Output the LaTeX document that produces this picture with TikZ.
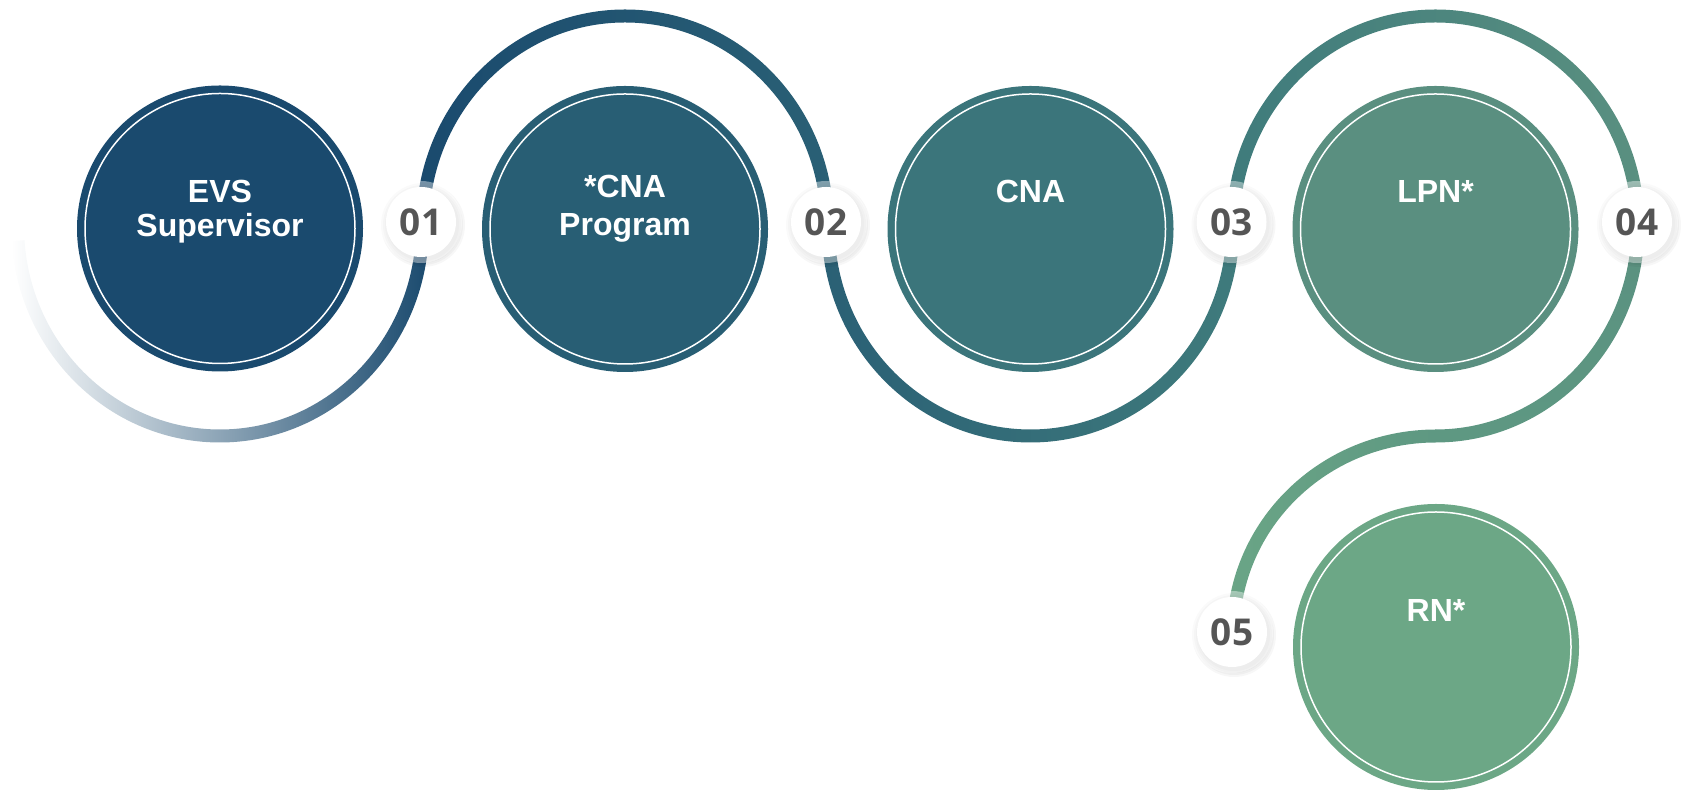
\documentclass[tikz,border=0pt]{standalone}
\usepackage{fontspec}
\newfontfamily\lblfont{Liberation Sans}
\newfontfamily\numfont{Open Sans}
\definecolor{c1}{HTML}{1A4A6E}
\definecolor{c2}{HTML}{285E74}
\definecolor{c3}{HTML}{3B757B}
\definecolor{c4}{HTML}{5A8F80}
\definecolor{c5}{HTML}{6CA786}
\definecolor{amid}{HTML}{9DAFD0}
\definecolor{k2}{HTML}{2A6075}
\definecolor{k3}{HTML}{3F7B7C}
\definecolor{k4}{HTML}{5A9080}
\definecolor{k5}{HTML}{5E9882}
\definecolor{k6}{HTML}{6AA586}
\definecolor{numgray}{HTML}{555555}
\newcommand{\snakearc}[6]{%
  \pgfmathsetmacro\rxo{#4+6.5}\pgfmathsetmacro\ryo{#5+6.5}%
  \pgfmathsetmacro\rxi{#4-6.5}\pgfmathsetmacro\ryi{#5-6.5}%
  \shade[#6] (#1) ++({#2}:{\rxo} and {\ryo})
    arc[start angle=#2, end angle=#3, x radius=\rxo, y radius=\ryo]
    -- ++({#3}:-13)
    arc[start angle=#3, end angle=#2, x radius=\rxi, y radius=\ryi] -- cycle;}
\begin{document}
\begin{tikzpicture}[x=1pt,y=1pt]
\tikzset{
  bigc/.style={circle, minimum size=286pt, inner sep=0pt},
  lbl/.style={font=\lblfont\bfseries\fontsize{32}{34.5}\selectfont, text=white, align=center, inner sep=0pt, anchor=base},
  badge/.style={circle, fill=white, minimum size=70pt, inner sep=0pt, font=\numfont\bfseries\fontsize{37}{40}\selectfont, text=numgray},
}
\useasboundingbox (0,0) rectangle (1681,791);
% arc centres
\coordinate (o1) at (220,565);
\coordinate (o2) at (625,565);
\coordinate (o3) at (1030.5,565);
\coordinate (o4) at (1435.5,565);
\coordinate (o6) at (1436,157);
% snake path
\snakearc{o1}{184}{360}{202.5}{210}{left color=white, middle color=amid, right color=c1}
\snakearc{o2}{180}{0}{202.5}{210}{left color=c1, right color=k2}
\snakearc{o3}{180}{360}{202.5}{210}{left color=k2, right color=k3}
\snakearc{o4}{180}{0}{202.5}{210}{left color=k3, right color=k4}
\snakearc{o4}{0}{-90}{202.5}{210}{top color=k4, bottom color=k5}
\snakearc{o6}{90}{180}{203}{198}{right color=k5, left color=k6}
% circles
\node[bigc, fill=c1] (n1) at (220,562.5) {};
\node[bigc, fill=c2] (n2) at (625,562) {};
\node[bigc, fill=c3] (n3) at (1030.5,562) {};
\node[bigc, fill=c4] (n4) at (1435.5,562) {};
\node[bigc, fill=c5] (n5) at (1436,144) {};
\foreach \i in {1,...,5} \draw[white, line width=1.5pt] (n\i.center) circle[radius=135];
% labels (base = last line)
\node[lbl, font=\lblfont\bfseries\fontsize{32}{34.5}\selectfont] (t1) at (220,554.3) {EVS\\Supervisor};
\node[lbl, font=\lblfont\bfseries\fontsize{32}{38}\selectfont] (t2) at (625,555) {*CNA\\Program};
\node[lbl] (t3) at (1030.5,588.5) {CNA};
\node[lbl] (t4) at (1435.5,588.5) {LPN*};
\node[lbl] (t5) at (1436,169.3) {RN*};
% badges
\foreach \x/\y/\n in {421/569/01, 826/569/02, 1231.5/569/03, 1637/569/04, 1232/159/05}{
  \foreach \r in {36,38,40,42}
    \fill[black, opacity=0.03] (\x+2,\y-3) circle[radius=\r];
  \fill[white, opacity=0.4] (\x,\y) circle[radius=41];
  \node[badge] (b\n) at (\x,\y) {\n};
}
\end{tikzpicture}
\end{document}
